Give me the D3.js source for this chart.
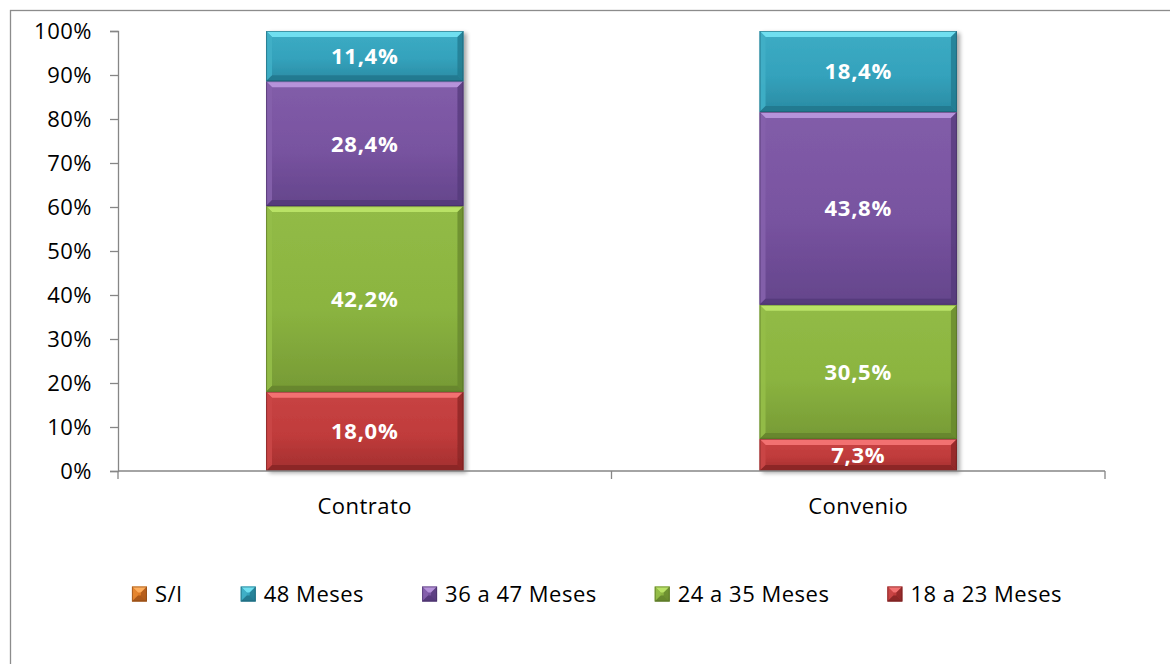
<!DOCTYPE html>
<html>
<head>
<meta charset="utf-8">
<script src="https://cdn.jsdelivr.net/npm/d3@7/dist/d3.min.js"></script>
<style>
  html, body { margin: 0; padding: 0; background: #fff; }
  svg text { font-family: "Open Sans", "DejaVu Sans", sans-serif; }
</style>
</head>
<body>
<svg id="chart" width="1170" height="664"></svg>
<script>
// Duration distribution (%) per agreement type
const categories = ["Contrato", "Convenio"];
const seriesNames = ["S/I", "48 Meses", "36 a 47 Meses", "24 a 35 Meses", "18 a 23 Meses"];
const valuesSI   = [0, 0];
const values48   = [11.4, 18.4];
const values3647 = [28.4, 43.8];
const values2435 = [42.2, 30.5];
const values1823 = [18.0, 7.3];
const yTicks = [0, 10, 20, 30, 40, 50, 60, 70, 80, 90, 100];

// base / highlight / shadow tones per series
const palette = {
  "S/I":           { base: "#E07B24", light: "#FFB060", dark: "#A8561A" },
  "48 Meses":      { base: "#34A2BC", light: "#72E2F2", dark: "#22788E" },
  "36 a 47 Meses": { base: "#7853A0", light: "#B896DC", dark: "#54397A" },
  "24 a 35 Meses": { base: "#8BB440", light: "#BCE468", dark: "#65852C" },
  "18 a 23 Meses": { base: "#C03B3B", light: "#F47474", dark: "#8A2626" }
};

const rows = categories.map((c, i) => ({
  category: c,
  "18 a 23 Meses": values1823[i],
  "24 a 35 Meses": values2435[i],
  "36 a 47 Meses": values3647[i],
  "48 Meses": values48[i],
  "S/I": valuesSI[i]
}));
const stackOrder = ["18 a 23 Meses", "24 a 35 Meses", "36 a 47 Meses", "48 Meses", "S/I"];
const stacked = d3.stack().keys(stackOrder)(rows);

const svg = d3.select("#chart");
const plot = { left: 118, right: 1105, top: 31, bottom: 471 };
const axisFont = "22px";
const axisSpacing = "0.5px";

// outer frame
svg.append("rect")
  .attr("x", 10.5).attr("y", 10.5).attr("width", 1200).attr("height", 700)
  .attr("fill", "none").attr("stroke", "#8c8c8c").attr("stroke-width", 1.3);

const x = d3.scaleBand().domain(categories)
  .range([plot.left, plot.right]).paddingInner(0.6).paddingOuter(0.3);
const y = d3.scaleLinear().domain([0, 100]).range([plot.bottom, plot.top]);

const defs = svg.append("defs");
stackOrder.forEach((k, i) => {
  const p = palette[k];
  const g = defs.append("linearGradient").attr("id", "grad" + i)
    .attr("x1", 0).attr("y1", 0).attr("x2", 0).attr("y2", 1);
  g.append("stop").attr("offset", "0%").attr("stop-color", d3.interpolateRgb(p.base, p.light)(0.15));
  g.append("stop").attr("offset", "55%").attr("stop-color", p.base);
  g.append("stop").attr("offset", "100%").attr("stop-color", d3.interpolateRgb(p.base, p.dark)(0.55));
});
const shadow = defs.append("filter").attr("id", "shadow")
  .attr("x", "-10%").attr("y", "-10%").attr("width", "130%").attr("height", "130%");
shadow.append("feGaussianBlur").attr("in", "SourceAlpha").attr("stdDeviation", 2.2);
shadow.append("feOffset").attr("dx", 2.5).attr("dy", 1.5).attr("result", "ob");
shadow.append("feComponentTransfer").append("feFuncA").attr("type", "linear").attr("slope", 0.35);
const merge = shadow.append("feMerge");
merge.append("feMergeNode");
merge.append("feMergeNode").attr("in", "SourceGraphic");

// y axis
const yAxis = d3.axisLeft(y).tickValues(yTicks).tickSize(8).tickPadding(18)
  .tickFormat(d => d + "%");
const yG = svg.append("g").attr("transform", `translate(${plot.left},0)`).call(yAxis);
yG.select(".domain").attr("stroke", "#868686").attr("stroke-width", 1.3);
yG.selectAll(".tick line").attr("stroke", "#868686").attr("stroke-width", 1.3);
yG.selectAll(".tick text").attr("fill", "#000")
  .style("font-size", axisFont).style("letter-spacing", axisSpacing);

// bevelled bar segments
function bevel(g, x0, y0, w, h, p, gi) {
  const b = Math.min(6, h / 2.5);
  const x1 = x0 + w, y1 = y0 + h;
  g.append("rect").attr("x", x0).attr("y", y0).attr("width", w).attr("height", h)
    .attr("fill", `url(#grad${gi})`);
  const poly = (pts, fill, op) => g.append("polygon")
    .attr("points", pts.map(q => q.join(",")).join(" "))
    .attr("fill", fill).attr("opacity", op);
  poly([[x0, y0], [x1, y0], [x1 - b, y0 + b], [x0 + b, y0 + b]], p.light, 0.95);
  poly([[x0, y0], [x0 + b, y0 + b], [x0 + b, y1 - b], [x0, y1]], d3.interpolateRgb(p.base, p.light)(0.2), 0.9);
  poly([[x1, y0], [x1, y1], [x1 - b, y1 - b], [x1 - b, y0 + b]], p.dark, 0.75);
  poly([[x0, y1], [x0 + b, y1 - b], [x1 - b, y1 - b], [x1, y1]], p.dark, 0.9);
  g.append("rect").attr("x", x0 + 0.5).attr("y", y0 + 0.5).attr("width", w - 1).attr("height", h - 1)
    .attr("fill", "none").attr("stroke", d3.color(p.dark).darker(0.8)).attr("stroke-opacity", 0.55);
}

const barsG = svg.append("g").attr("filter", "url(#shadow)");
stacked.forEach((layer, gi) => {
  const key = layer.key;
  layer.forEach(seg => {
    const v = seg[1] - seg[0];
    if (v <= 0) return;
    const cat = seg.data.category;
    bevel(barsG.append("g"), x(cat), y(seg[1]), x.bandwidth(), y(seg[0]) - y(seg[1]), palette[key], gi);
  });
});

// value labels
const labelsG = svg.append("g");
stacked.forEach(layer => {
  layer.forEach(seg => {
    const v = seg[1] - seg[0];
    if (v <= 0) return;
    labelsG.append("text")
      .attr("x", x(seg.data.category) + x.bandwidth() / 2)
      .attr("y", (y(seg[0]) + y(seg[1])) / 2)
      .attr("dy", "0.36em")
      .attr("text-anchor", "middle")
      .attr("fill", "#fff")
      .style("font-size", "22px").style("font-weight", "700")
      .style("letter-spacing", "0.7px")
      .text(v.toFixed(1).replace(".", ",") + "%");
  });
});

// x axis with boundary ticks
const step = x.step();
svg.append("line").attr("x1", plot.left).attr("x2", plot.right)
  .attr("y1", plot.bottom).attr("y2", plot.bottom)
  .attr("stroke", "#868686").attr("stroke-width", 1.3);
const bounds = [plot.left].concat(categories.map(c => x(c) + x.bandwidth() + step * x.paddingInner() / 2));
bounds[bounds.length - 1] = plot.right;
svg.selectAll(".xtick").data(bounds).enter().append("line")
  .attr("x1", d => d).attr("x2", d => d)
  .attr("y1", plot.bottom).attr("y2", plot.bottom + 8)
  .attr("stroke", "#868686").attr("stroke-width", 1.3);
svg.selectAll(".xlab").data(categories).enter().append("text")
  .attr("x", d => x(d) + x.bandwidth() / 2).attr("y", 506)
  .attr("dy", "0.35em").attr("text-anchor", "middle")
  .style("font-size", axisFont).style("letter-spacing", axisSpacing)
  .attr("fill", "#000").text(d => d);

// legend
const legendG = svg.append("g");
const items = seriesNames.map((name, i) => {
  const g = legendG.append("g");
  bevel(g, 0, -7.5, 15, 15, palette[name], stackOrder.indexOf(name));
  const t = g.append("text").attr("x", 23).attr("y", 0).attr("dy", "0.36em")
    .style("font-size", axisFont).style("letter-spacing", axisSpacing)
    .attr("fill", "#000").text(name);
  return { g, w: 23 + t.node().getComputedTextLength() };
});
const gap = 58;
const total = d3.sum(items, d => d.w) + gap * (items.length - 1);
let cx = 597 - total / 2;
items.forEach(it => {
  it.g.attr("transform", `translate(${cx},594)`);
  cx += it.w + gap;
});
</script>
</body>
</html>
